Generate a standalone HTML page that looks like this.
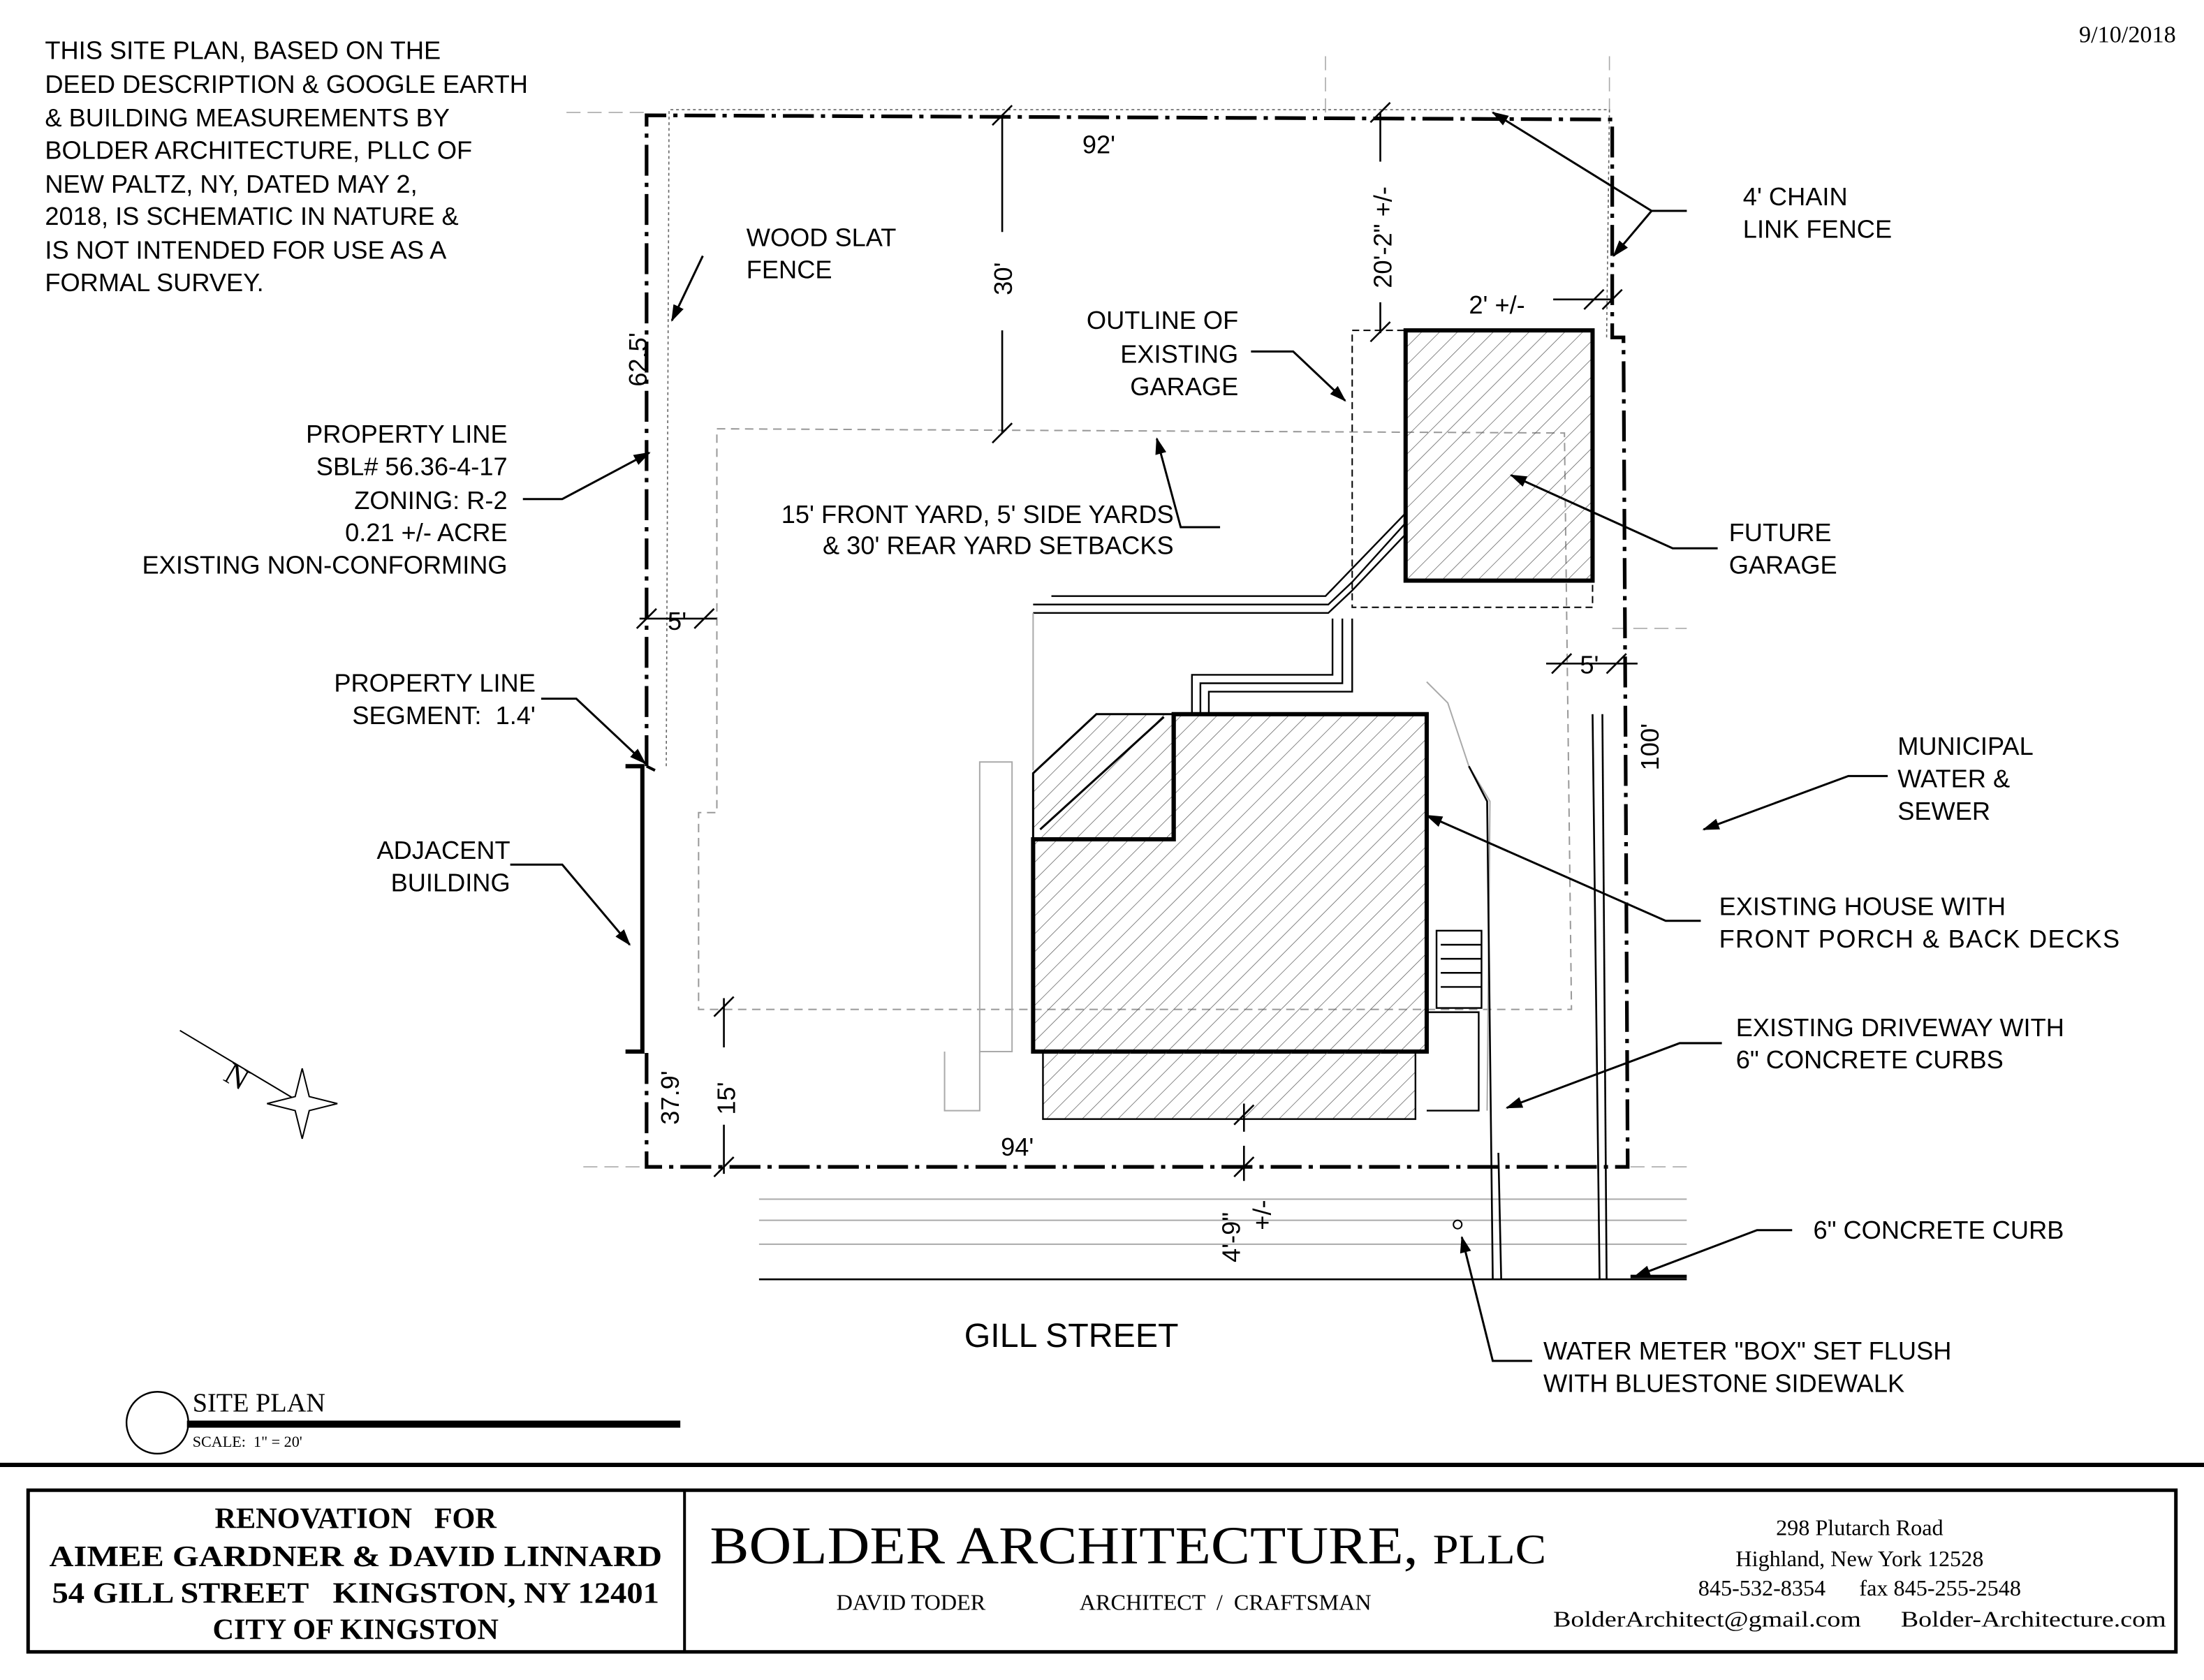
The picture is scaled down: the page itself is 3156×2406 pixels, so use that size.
<!DOCTYPE html>
<html><head><style>html,body{margin:0;padding:0;background:#fff}svg{display:block}text{white-space:pre}</style></head><body>
<svg width="3156" height="2406" viewBox="0 0 1568 1195" preserveAspectRatio="none" xmlns="http://www.w3.org/2000/svg" font-family="Liberation Sans, sans-serif">
<defs>
<pattern id="h" patternUnits="userSpaceOnUse" width="9" height="9" patternTransform="rotate(45)"><line x1="0" y1="0" x2="0" y2="9" stroke="#555" stroke-width="0.7"/></pattern>
<marker id="a" markerWidth="12" markerHeight="8" refX="11" refY="4" orient="auto" markerUnits="userSpaceOnUse"><path d="M0,0 L12,4 L0,8 Z" fill="#000"/></marker>
</defs>
<rect width="1568" height="1195" fill="#fff"/>
<g stroke="#aaa" stroke-width="0.8" stroke-dasharray="10,5">
<line x1="403" y1="80" x2="460" y2="80"/><line x1="943" y1="40" x2="943" y2="80"/><line x1="1145" y1="40" x2="1145" y2="80"/>
<line x1="1147" y1="447" x2="1200" y2="447"/><line x1="415" y1="830" x2="460" y2="830"/><line x1="1160" y1="830" x2="1200" y2="830"/>
</g>
<g fill="none" stroke="#000" stroke-width="2.6" stroke-dasharray="22,5,3,5">
<polyline points="460,545 460,82 1147,85 1147,240 1155,240 1158,830 460,830 460,748"/>
</g>
<polyline points="474,545 476,78 1145,78 1143,240" fill="none" stroke="#666" stroke-width="0.8" stroke-dasharray="2,2"/>
<polyline points="445,545 457,545 457,748 445,748" fill="none" stroke="#000" stroke-width="3"/>
<line x1="460" y1="545" x2="466" y2="548" stroke="#000" stroke-width="2"/>
<polyline points="510,305 1113,308 1118,718 497,718 497,578 510,578 510,305" fill="none" stroke="#999" stroke-width="1" stroke-dasharray="6,4"/>
<rect x="962" y="235" width="171" height="197" fill="none" stroke="#000" stroke-width="1" stroke-dasharray="5,3"/>
<rect x="1000" y="235" width="133" height="178" fill="url(#h)" stroke="#000" stroke-width="3"/>
<g fill="none" stroke="#000" stroke-width="1.2">
<polyline points="735,436 945,436 962,420 1000,380"/>
<polyline points="735,430 945,430 962,414 1000,372"/>
<polyline points="748,424 943,424 1000,365"/>
<polyline points="848,508 848,480 948,480 948,440"/><polyline points="854,508 854,486 955,486 955,440"/><polyline points="860,508 860,492 962,492 962,440"/>
</g>
<g fill="none" stroke="#aaa" stroke-width="1">
<polyline points="735,436 735,548"/><polyline points="1015,485 1030,500 1045,545 1060,570 1058,790"/>
<rect x="697" y="542" width="23" height="206"/><polyline points="672,748 672,790 697,790 697,748"/>
<line x1="540" y1="853" x2="1200" y2="853"/><line x1="540" y1="868" x2="1200" y2="868"/><line x1="540" y1="885" x2="1200" y2="885"/>
</g>
<polygon points="735,597 835,597 835,508 1015,508 1015,748 735,748" fill="url(#h)" stroke="#000" stroke-width="3"/>
<polygon points="735,550 780,508 835,508 835,597 735,597" fill="url(#h)" stroke="#000" stroke-width="1.5"/>
<polyline points="735,597 835,597 835,508" fill="none" stroke="#000" stroke-width="3"/>
<line x1="740" y1="590" x2="828" y2="510" stroke="#000" stroke-width="1.5"/>
<rect x="742" y="748" width="265" height="48" fill="url(#h)" stroke="#000" stroke-width="1.2"/>
<g stroke="#000" stroke-width="1.2" fill="none"><rect x="1022" y="662" width="32" height="55"/>
<line x1="1025" y1="672" x2="1054" y2="672"/><line x1="1025" y1="682" x2="1054" y2="682"/><line x1="1025" y1="692" x2="1054" y2="692"/><line x1="1025" y1="702" x2="1054" y2="702"/>
<polyline points="1015,720 1052,720 1052,790 1015,790"/></g>
<g stroke="#000" stroke-width="1.3" fill="none">
<polyline points="1045,545 1058,570 1062,910"/><polyline points="1066,820 1068,910"/>
<line x1="1133" y1="508" x2="1138" y2="910"/><line x1="1140" y1="508" x2="1143" y2="910"/>
<line x1="1160" y1="908" x2="1200" y2="908" stroke-width="2.5"/><line x1="540" y1="910" x2="1200" y2="910"/>
</g>
<circle cx="1037" cy="871" r="3" fill="#fff" stroke="#000"/>
<g stroke="#000" stroke-width="1.3" fill="none">
<line x1="713" y1="82" x2="713" y2="165"/><line x1="713" y1="235" x2="713" y2="308"/>
<line x1="706" y1="89" x2="720" y2="75"/><line x1="706" y1="315" x2="720" y2="301"/>
<line x1="982" y1="80" x2="982" y2="115"/><line x1="982" y1="215" x2="982" y2="237"/>
<line x1="975" y1="87" x2="989" y2="73"/><line x1="975" y1="243" x2="989" y2="229"/>
<line x1="1105" y1="213" x2="1147" y2="213"/><line x1="1127" y1="220" x2="1141" y2="206"/><line x1="1140" y1="220" x2="1154" y2="206"/>
<line x1="455" y1="440" x2="510" y2="440"/><line x1="453" y1="447" x2="467" y2="433"/><line x1="494" y1="447" x2="508" y2="433"/>
<line x1="1100" y1="472" x2="1165" y2="472"/><line x1="1104" y1="479" x2="1118" y2="465"/><line x1="1143" y1="479" x2="1157" y2="465"/>
<line x1="515" y1="710" x2="515" y2="745"/><line x1="515" y1="800" x2="515" y2="835"/><line x1="508" y1="723" x2="522" y2="709"/><line x1="508" y1="837" x2="522" y2="823"/>
<line x1="885" y1="785" x2="885" y2="805"/><line x1="885" y1="815" x2="885" y2="840"/><line x1="878" y1="800" x2="892" y2="786"/><line x1="878" y1="837" x2="892" y2="823"/>
</g>
<g stroke="#000" stroke-width="1.5" fill="none" marker-end="url(#a)">
<polyline points="500,182 478,228"/>
<polyline points="1200,150 1175,150 1062,80"/><polyline points="1200,150 1175,150 1148,182"/>
<polyline points="890,250 920,250 957,285"/>
<polyline points="372,355 400,355 462,322"/>
<polyline points="385,497 410,497 459,543"/>
<polyline points="363,615 400,615 448,672"/>
<polyline points="868,375 840,375 823,312"/>
<polyline points="1222,390 1190,390 1075,338"/>
<polyline points="1343,552 1315,552 1212,590"/>
<polyline points="1210,655 1185,655 1015,580"/>
<polyline points="1225,742 1195,742 1072,788"/>
<polyline points="1275,875 1250,875 1163,908"/>
<polyline points="1090,968 1062,968 1040,880"/>
</g>
<g font-size="18" fill="#000">
<text x="32" y="42">THIS SITE PLAN, BASED ON THE</text>
<text x="32" y="66">DEED DESCRIPTION &amp; GOOGLE EARTH</text>
<text x="32" y="90">&amp; BUILDING MEASUREMENTS BY</text>
<text x="32" y="113">BOLDER ARCHITECTURE, PLLC OF</text>
<text x="32" y="137">NEW PALTZ, NY, DATED MAY 2,</text>
<text x="32" y="160">2018, IS SCHEMATIC IN NATURE &amp;</text>
<text x="32" y="184">IS NOT INTENDED FOR USE AS A</text>
<text x="32" y="207">FORMAL SURVEY.</text>
<text x="531" y="175">WOOD SLAT</text><text x="531" y="198">FENCE</text>
<text x="770" y="109">92'</text>
<text x="1240" y="146">4' CHAIN</text><text x="1240" y="169">LINK FENCE</text>
<text x="881" y="234" text-anchor="end">OUTLINE OF</text><text x="881" y="258" text-anchor="end">EXISTING</text><text x="881" y="281" text-anchor="end">GARAGE</text>
<text x="1045" y="223">2' +/-</text>
<text x="361" y="315" text-anchor="end">PROPERTY LINE</text>
<text x="361" y="338" text-anchor="end">SBL# 56.36-4-17</text>
<text x="361" y="362" text-anchor="end">ZONING: R-2</text>
<text x="361" y="385" text-anchor="end">0.21 +/- ACRE</text>
<text x="361" y="408" text-anchor="end">EXISTING NON-CONFORMING</text>
<text x="835" y="372" text-anchor="end">15' FRONT YARD, 5' SIDE YARDS</text>
<text x="835" y="394" text-anchor="end">&amp; 30' REAR YARD SETBACKS</text>
<text x="1230" y="385">FUTURE</text><text x="1230" y="408">GARAGE</text>
<text x="475" y="448">5'</text><text x="1124" y="479">5'</text>
<text x="381" y="492" text-anchor="end">PROPERTY LINE</text><text x="381" y="515" text-anchor="end">SEGMENT:  1.4'</text>
<text x="1350" y="537">MUNICIPAL</text><text x="1350" y="560">WATER &amp;</text><text x="1350" y="583">SEWER</text>
<text x="363" y="611" text-anchor="end">ADJACENT</text><text x="363" y="634" text-anchor="end">BUILDING</text>
<text x="1223" y="651">EXISTING HOUSE WITH</text><text x="1223" y="674" textLength="285">FRONT PORCH &amp; BACK DECKS</text>
<text x="1235" y="737">EXISTING DRIVEWAY WITH</text><text x="1235" y="760">6" CONCRETE CURBS</text>
<text x="712" y="822">94'</text>
<text x="1290" y="881">6" CONCRETE CURB</text>
<text x="1098" y="967">WATER METER "BOX" SET FLUSH</text><text x="1098" y="990">WITH BLUESTONE SIDEWALK</text>
<text x="686" y="958" font-size="24">GILL STREET</text>
<text transform="translate(460,275) rotate(-90)">62.5'</text>
<text transform="translate(720,210) rotate(-90)">30'</text>
<text transform="translate(990,205) rotate(-90)">20'-2" +/-</text>
<text transform="translate(1180,548) rotate(-90)">100'</text>
<text transform="translate(483,800) rotate(-90)">37.9'</text>
<text transform="translate(523,793) rotate(-90)">15'</text>
<text transform="translate(882,898) rotate(-90)">4'-9"</text>
<text transform="translate(904,875) rotate(-90)">+/-</text>
</g>
<text x="1548" y="30" font-family="Liberation Serif, serif" font-size="17" text-anchor="end">9/10/2018</text>
<g stroke="#000" stroke-width="1" fill="#fff">
<line x1="128" y1="733" x2="215" y2="785"/>
<polygon points="215,760 220,780 240,785 220,790 215,810 210,790 190,785 210,780"/>
</g>
<text transform="translate(158,768) rotate(30)" font-family="Liberation Serif, serif" font-size="22">N</text>
<circle cx="112" cy="1012" r="22" fill="#fff" stroke="#000" stroke-width="1.2"/>
<text x="137" y="1004" font-family="Liberation Serif, serif" font-size="19">SITE PLAN</text>
<line x1="133" y1="1013" x2="484" y2="1013" stroke="#000" stroke-width="5"/>
<text x="137" y="1029" font-family="Liberation Serif, serif" font-size="11">SCALE:  1" = 20'</text>
<line x1="0" y1="1042" x2="1568" y2="1042" stroke="#000" stroke-width="3"/>
<rect x="20" y="1060" width="1528" height="115" fill="none" stroke="#000" stroke-width="2.5"/>
<line x1="487" y1="1060" x2="487" y2="1175" stroke="#000" stroke-width="2"/>
<g font-family="Liberation Serif, serif" font-weight="bold" font-size="21" text-anchor="middle">
<text x="253" y="1087">RENOVATION   FOR</text><text x="253" y="1114" textLength="436" lengthAdjust="spacingAndGlyphs">AIMEE GARDNER &amp; DAVID LINNARD</text>
<text x="253" y="1140" textLength="432" lengthAdjust="spacingAndGlyphs">54 GILL STREET   KINGSTON, NY 12401</text><text x="253" y="1166">CITY OF KINGSTON</text></g>
<text x="505" y="1112" font-family="Liberation Serif, serif" font-size="38" textLength="595" lengthAdjust="spacingAndGlyphs">BOLDER ARCHITECTURE, <tspan font-size="30">PLLC</tspan></text>
<text x="595" y="1145" font-family="Liberation Serif, serif" font-size="16">DAVID TODER</text>
<text x="768" y="1145" font-family="Liberation Serif, serif" font-size="16">ARCHITECT  /  CRAFTSMAN</text>
<g font-family="Liberation Serif, serif" font-size="16" text-anchor="middle">
<text x="1323" y="1092">298 Plutarch Road</text><text x="1323" y="1114">Highland, New York 12528</text>
<text x="1323" y="1135">845-532-8354      fax 845-255-2548</text><text x="1323" y="1157" textLength="436" lengthAdjust="spacingAndGlyphs">BolderArchitect@gmail.com      Bolder-Architecture.com</text></g>
</svg>
</body></html>
